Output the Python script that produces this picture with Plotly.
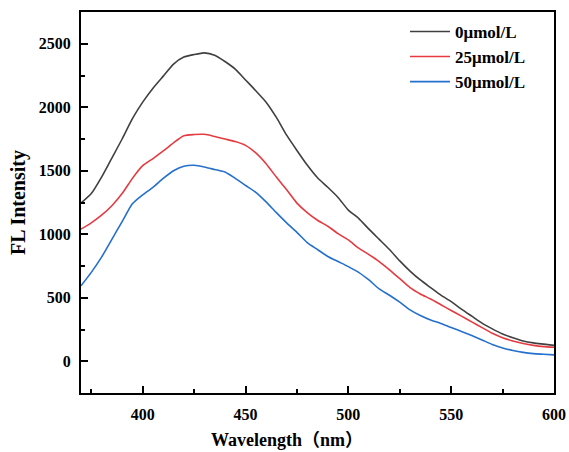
import plotly.graph_objects as go

# Emission wavelength (nm)
wavelength = [370, 375, 380, 385, 390, 395, 400, 405, 410, 415, 420, 425, 430, 435,
              440, 445, 450, 455, 460, 465, 470, 475, 480, 485, 490, 495, 500, 505,
              510, 515, 520, 525, 530, 535, 540, 545, 550, 555, 560, 565, 570, 575,
              580, 585, 590, 595, 600]

# Fluorescence intensity for each concentration
fl_0 = [1245, 1320, 1450, 1600, 1750, 1910, 2040, 2150, 2245, 2340, 2395, 2415, 2428, 2410,
        2360, 2300, 2215, 2130, 2040, 1920, 1780, 1660, 1545, 1445, 1370, 1290, 1190, 1125,
        1040, 960, 880, 790, 710, 640, 580, 520, 470, 410, 355, 300, 255, 215,
        185, 160, 145, 135, 125]
fl_25 = [1040, 1090, 1150, 1225, 1320, 1440, 1540, 1596, 1656, 1720, 1775, 1785, 1787, 1770,
         1750, 1730, 1700, 1640, 1555, 1450, 1350, 1245, 1170, 1110, 1063, 1005, 955, 890,
         840, 785, 720, 650, 580, 530, 490, 445, 400, 355, 310, 265, 220, 185,
         160, 140, 125, 115, 110]
fl_50 = [594, 700, 820, 960, 1100, 1240, 1310, 1370, 1440, 1500, 1535, 1543, 1530, 1510,
         1490, 1440, 1385, 1330, 1255, 1170, 1090, 1015, 935, 880, 825, 785, 745, 700,
         640, 570, 520, 465, 405, 360, 325, 298, 265, 235, 203, 168, 132, 105,
         85, 70, 60, 55, 50]

series_names = ["0\u03bcmol/L", "25\u03bcmol/L", "50\u03bcmol/L"]
series_colors = ["#404040", "#e53a40", "#2470cc"]

x_ticks = [400, 450, 500, 550, 600]
y_ticks = [0, 500, 1000, 1500, 2000, 2500]

FONT = "Liberation Serif, Times New Roman, Noto Sans CJK SC, serif"

fig = go.Figure()
for name, vals, col in zip(series_names, [fl_0, fl_25, fl_50], series_colors):
    fig.add_trace(go.Scatter(
        x=wavelength, y=vals, mode="lines", name=name,
        line=dict(color=col, width=1.6, shape="spline", smoothing=0.6),
    ))

axis_common = dict(
    showline=True, linecolor="black", linewidth=2, mirror=True,
    ticks="inside", ticklen=7, tickwidth=1.5, tickcolor="black",
    showgrid=False, zeroline=False, automargin=False,
    tickfont=dict(family=FONT, size=16, color="black", weight="bold"),
)

fig.update_xaxes(
    range=[370, 600], tickvals=x_ticks, ticklabelstandoff=6,
    minor=dict(ticks="inside", ticklen=4, tickwidth=1.5, tickcolor="black", dtick=25, tick0=375),
    **axis_common,
)
fig.update_yaxes(
    range=[-250, 2750], tickvals=y_ticks, ticklabelstandoff=5,
    minor=dict(ticks="inside", ticklen=4, tickwidth=1.5, tickcolor="black", dtick=500, tick0=250),
    **axis_common,
)

fig.update_layout(
    width=569, height=452,
    margin=dict(l=81, r=15, t=12, b=59),
    plot_bgcolor="white", paper_bgcolor="white",
    showlegend=True,
    legend=dict(
        x=0.685, y=0.995, xanchor="left", yanchor="top",
        bgcolor="rgba(0,0,0,0)", borderwidth=0,
        font=dict(family=FONT, size=17, color="black", weight="bold"),
        itemwidth=40, tracegroupgap=0,
    ),
    annotations=[
        dict(text="Wavelength\uff08nm\uff09", x=0.435, y=-0.123, xref="paper", yref="paper",
             xanchor="center", yanchor="middle", showarrow=False,
             font=dict(family=FONT, size=18, color="black", weight="bold")),
        dict(text="FL Intensity", x=-0.132, y=0.5, xref="paper", yref="paper",
             xanchor="center", yanchor="middle", showarrow=False, textangle=-90,
             font=dict(family=FONT, size=20, color="black", weight="bold")),
    ],
)

fig.write_html("out.html")
